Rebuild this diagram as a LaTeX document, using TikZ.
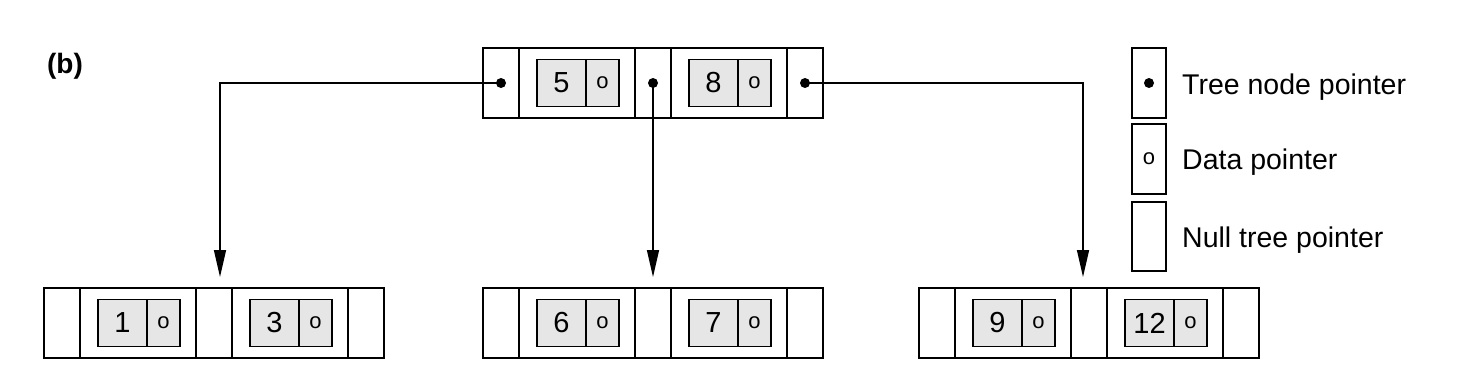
\documentclass[tikz,border=0pt]{standalone}
\usepackage{fontspec}
\setmainfont{Liberation Sans}
\usetikzlibrary{arrows.meta,positioning}
\definecolor{keygray}{HTML}{E6E6E6}

\begin{document}
\begin{tikzpicture}[x=1pt, y=-1pt,
  ptr/.style={draw, line width=1.4pt, minimum width=36pt, minimum height=70pt, inner sep=0pt, outer sep=0pt},
  keycell/.style={ptr, minimum width=116pt},
  keybox/.style={draw, line width=1.4pt, fill=keygray, minimum width=49pt, minimum height=47pt, inner sep=0pt, outer sep=0pt, font=\fontsize{29}{30}\selectfont},
  datbox/.style={keybox, minimum width=33pt, font=\fontsize{22}{24}\selectfont},
  lbl/.style={anchor=base west, inner sep=0pt, font=\fontsize{28.5}{32}\selectfont},
  arr/.style={line width=1.4pt, -{Triangle[length=27pt, width=12pt]}}
]
\useasboundingbox (0,0) rectangle (1470,370);

% Label
\node[font=\bfseries\fontsize{28}{30}\selectfont] (tag) at (65,66) {(b)};

% B-tree nodes: name/left x/centre y/keys
\foreach \nm/\x/\y/\ka/\kb in {t/483/83/5/8, l/44/323/1/3, m/483/323/6/7, r/919/323/9/12}{
  \node[ptr, anchor=west] (\nm0) at (\x,\y) {};
  \node[keycell, right=0pt of \nm0] (\nm1) {};
  \node[ptr, right=0pt of \nm1] (\nm2) {};
  \node[keycell, right=0pt of \nm2] (\nm3) {};
  \node[ptr, right=0pt of \nm3] (\nm4) {};
  \node[keybox, right=18pt of \nm1.west] (\nm-ka) {\ka};
  \node[datbox, right=0pt of \nm-ka] (\nm-da) {o};
  \node[keybox, right=18pt of \nm3.west] (\nm-kb) {\kb};
  \node[datbox, right=0pt of \nm-kb] (\nm-db) {o};
}

% Tree node pointers of the root
\foreach \p in {t0,t2,t4}
  \fill (\p) circle (5pt);

% Pointers to the leaves
\coordinate (ltip) at (220,277);
\coordinate (mtip) at (650,277);
\coordinate (rtip) at (1083,277);
\draw[arr] (t0.center) -| (ltip);
\draw[arr] (t2.center) -- (t2.center |- mtip);
\draw[arr] (t4.center) -| (rtip);

% Legend
\node[ptr, minimum width=34pt] (lg1) at (1149,83) {};
\fill (lg1) circle (5pt);
\node[ptr, minimum width=34pt, font=\fontsize{22}{24}\selectfont] (lg2) at (1149,159) {o};
\node[ptr, minimum width=34pt, minimum height=69pt] (lg3) at (1149,236.5) {};
\node[lbl] (lt1) at (1182,94) {Tree node pointer};
\node[lbl] (lt2) at (1182,169) {Data pointer};
\node[lbl] (lt3) at (1182,247) {Null tree pointer};
\end{tikzpicture}
\end{document}
